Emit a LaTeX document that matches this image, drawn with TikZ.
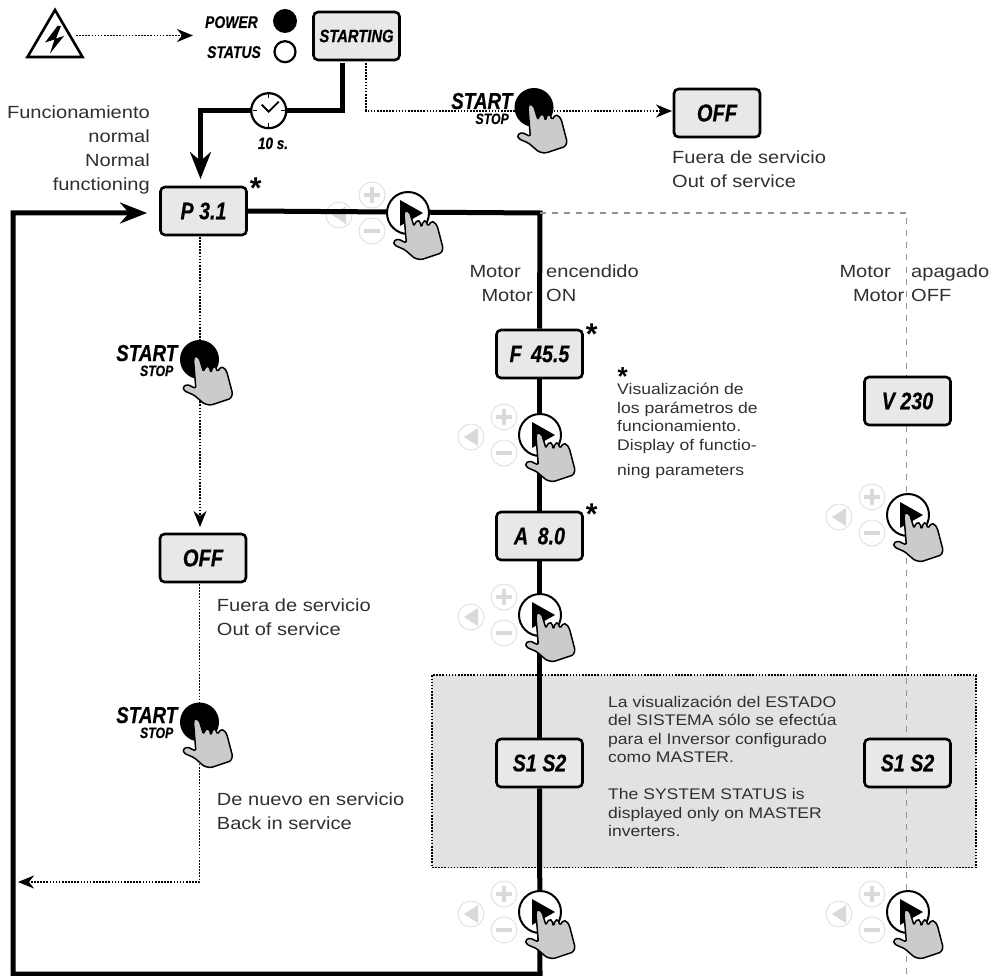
\documentclass[tikz,border=0pt]{standalone}
\usepackage{fontspec}
\setmainfont{Liberation Sans}
\newfontfamily\bifont[FakeStretch=0.82,FakeBold=0.4]{Liberation Sans}
\newfontfamily\ltfont[FakeStretch=1.14]{Liberation Sans}
\usetikzlibrary{arrows.meta}
\pgfdeclarelayer{back}
\pgfdeclarelayer{lines}
\pgfsetlayers{back,lines,main}
\definecolor{boxfill}{HTML}{E8E8E8}
\definecolor{shade}{HTML}{E1E3E3}
\definecolor{handfill}{HTML}{CBCBCC}
\definecolor{ghost}{HTML}{E2E2E3}
\definecolor{ghostfill}{HTML}{D9D9DA}
\definecolor{txt}{HTML}{303030}
\newcommand{\bisize}[1]{\bifont\bfseries\itshape\fontsize{#1}{#1}\selectfont}
\tikzset{
  dispbox/.style={draw=black,line width=2.6pt,fill=boxfill,rounded corners=4.5pt,minimum width=86pt,minimum height=48pt,inner sep=0pt,font=\bisize{24}},
  thick line/.style={line width=5pt,line join=miter},
  dotted line/.style={line width=1.6pt,dash pattern=on 1.6pt off 1.5pt},
  gray dash/.style={line width=1.2pt,draw=black!42,dash pattern=on 6pt off 6pt},
  big tip/.style={-{Stealth[length=27pt,width=21pt,inset=9pt]}},
  small tip/.style={-{Stealth[length=16pt,width=13pt,inset=5pt]}},
  lbl/.style={inner sep=0pt,text=txt,font=\ltfont\fontsize{17.6}{24}\selectfont},
  note/.style={inner sep=0pt,text=txt,font=\ltfont\fontsize{15.4}{18.6}\selectfont},
  biglab/.style={inner sep=0pt,anchor=base east},
  star/.style={inner sep=0pt,anchor=base,font=\bfseries\fontsize{30}{30}\selectfont},
  handshape/.pic={
    \draw[fill=handfill,line width=1.5pt,rounded corners=1.6pt,line join=round,scale=1/3]
      (-12,5)--(-9,-8)--(5,-2)--(18,40)--(22,28)--(29,22)--(36,25)--(40,43)--(46,25)--(53,22)--(60,40)
      --(70,25)--(80,28)--(88,40)--(105,105)--(100,120)--(40,140)--(20,136)--(-10,110)--(-40,97)--(-44,85)--(-30,78)--(-5,90)--cycle;
  },
  navbtn/.pic={
    \draw[fill=white,line width=2pt] (0,0) circle (21pt);
    \fill[black] (-8,-13)--(15,0)--(-8,13)--cycle;
    \pic {handshape};
  },
  navghost/.pic={
    \draw[ghost,line width=1pt,fill=white] (-36,-18) circle (13pt);
    \draw[ghost,line width=1pt,fill=white] (-36,18) circle (13pt);
    \draw[ghost,line width=1pt,fill=white] (-69,2) circle (13pt);
    \fill[ghostfill] (-76,2)--(-62,-7)--(-62,11)--cycle;
    \draw[ghostfill,line width=3.4pt] (-44,-18)--(-28,-18) (-36,-26)--(-36,-10);
    \draw[ghostfill,line width=3.4pt] (-44,18)--(-28,18);
  },
  startbtn/.pic={
    \fill[black] (0,0) circle (19.5pt);
    \pic[shift={(-2,-1)}] {handshape};
  },
}
\begin{document}
\begin{tikzpicture}[x=1pt,y=-1pt]
\useasboundingbox (0,0) rectangle (1003,976);
% display boxes
\node[dispbox,font=\bisize{18}] (starting) at (356.5,36) {STARTING};
\node[dispbox,font=\bisize{24}] (p31) at (203.5,211) {P 3.1};
\node[dispbox,font=\bisize{24.5}] (offtop) at (717,113) {OFF};
\node[dispbox,font=\bisize{24.5}] (offleft) at (203,558) {OFF};
\node[dispbox] (f455) at (539.5,354) {F\, 45.5};
\node[dispbox] (a80) at (539.5,536) {A\, 8.0};
\node[dispbox] (s1) at (539.5,763) {S1 S2};
\node[dispbox] (v230) at (907.5,401) {V 230};
\node[dispbox] (s2) at (907.5,763) {S1 S2};
% clock and warning sign
\node[circle,draw=black,fill=white,line width=2.2pt,minimum size=35pt,inner sep=0pt] (clock) at (268.7,110.7) {};
\draw[line width=1.8pt] (261.7,104.7)--(268.7,111.7)--(278.7,101.7);
\draw[line width=1.3pt] (268.7,94.5)--(268.7,98.5) (268.7,123)--(268.7,127) (252.5,110.7)--(256.5,110.7) (281,110.7)--(285,110.7);
\draw[line width=2.6pt,line join=miter,fill=white] (55,10)--(27.5,57)--(82.5,57)--cycle;
\fill[black] (57.5,26)--(45,42.5)--(54.5,39.5)--(50,53.5)--(64,36)--(56,38.5)--(61,26)--cycle;
% leds
\node[circle,fill=black,minimum size=24pt,inner sep=0pt] (ledpower) at (285,21) {};
\node[circle,draw=black,fill=white,line width=2.2pt,minimum size=21pt,inner sep=0pt] (ledstatus) at (285,51.7) {};
% junctions
\coordinate (warnout) at (76,35.5);
\coordinate (ledin) at (193,35.5);
\coordinate (c0) at (342,63);
\coordinate (c1) at (342,110.5);
\coordinate (c2) at (200.5,110.5);
\coordinate (c2b) at (200.5,179);
\coordinate (c3) at (540,213);
\coordinate (c4) at (906.5,213);
\coordinate (c5) at (540,974);
\coordinate (c6) at (13,974);
\coordinate (c7) at (13,213);
\coordinate (c8) at (147,213);
\coordinate (d1) at (366,63);
\coordinate (d2) at (366,111);
\coordinate (d2b) at (672,111);
\coordinate (d3) at (199.5,882);
\coordinate (d4) at (18,882);
\coordinate (d5) at (200,237);
\coordinate (d6) at (200,527);
\coordinate (d7) at (199.5,584);
\coordinate (e1) at (906.5,976);
% shaded band and faint buttons
\begin{pgfonlayer}{back}
\node[fill=shade,draw=black,dotted line,minimum width=543.7pt,minimum height=192.5pt,inner sep=0pt] (band) at (703.85,771.25) {};
\foreach \p in {(408,213),(540,435),(540,615),(540,912),(908,515),(908,912)}
  \pic at \p {navghost};
\end{pgfonlayer}
% connectors
\begin{pgfonlayer}{lines}
\draw[thick line,big tip] (c0) -- (c1) -- (c2) -- (c2b);
\draw[thick line] (p31.east) -- (c3) -- (f455.north);
\draw[thick line] (f455.south) -- (a80.north);
\draw[thick line] (a80.south) -- (s1.north);
\draw[thick line,big tip] (s1.south) -- (c5) -- (c6) -- (c7) -- (c8);
\draw[gray dash] (c3) -- (c4) -- (v230.north -| c4);
\draw[gray dash] (v230.south -| c4) -- (s2.north -| c4);
\draw[gray dash] (s2.south -| c4) -- (e1);
\draw[dotted line,small tip] (warnout) -- (ledin);
\draw[dotted line,small tip] (d1) -- (d2) -- (d2b);
\draw[dotted line,small tip] (d5) -- (d6);
\draw[dotted line,small tip] (d7) -- (d3) -- (d4);
\end{pgfonlayer}
% hands
\foreach \p in {(408,213),(540,435),(540,615),(540,912),(908,515),(908,912)}
  \pic at \p {navbtn};
\foreach \p in {(534,107.5),(199.5,359.5),(199.5,722)}
  \pic at \p {startbtn};
% bold italic labels
\node[biglab,font=\bisize{17}] (tpower) at (258,28) {POWER};
\node[biglab,font=\bisize{17}] (tstatus) at (261,58) {STATUS};
\node[inner sep=0pt,anchor=base,font=\bisize{16.5}] (t10) at (273,149) {10 s.};
\node[biglab,font=\bisize{23}] (st1) at (512.5,109) {START};
\node[biglab,font=\bisize{15}] (sp1) at (509,124) {STOP};
\node[biglab,font=\bisize{23}] (st2) at (177.5,361) {START};
\node[biglab,font=\bisize{15}] (sp2) at (173.5,376) {STOP};
\node[biglab,font=\bisize{23}] (st3) at (177.5,723) {START};
\node[biglab,font=\bisize{15}] (sp3) at (173.5,738) {STOP};
% plain labels
\node[lbl,align=right,anchor=base east] (tnorm) at (150,191) {Funcionamiento\\normal\\Normal\\functioning};
\node[lbl,align=left,anchor=base west] (tfuera1) at (672,187.7) {Fuera de servicio\\Out of service};
\node[lbl,align=left,anchor=base west] (tfuera2) at (216.7,635.7) {Fuera de servicio\\Out of service};
\node[lbl,align=left,anchor=base west] (tnuevo) at (216.7,829) {De nuevo en servicio\\Back in service};
\node[lbl,anchor=base east] (tm1) at (521,277) {Motor};
\node[lbl,anchor=base west] (tm2) at (546,277) {encendido};
\node[lbl,anchor=base east] (tm3) at (533,301) {Motor};
\node[lbl,anchor=base west] (tm4) at (546,301) {ON};
\node[lbl,anchor=base east] (tm5) at (891,277) {Motor};
\node[lbl,anchor=base west] (tm6) at (911,277) {apagado};
\node[lbl,anchor=base east] (tm7) at (904.5,301) {Motor};
\node[lbl,anchor=base west] (tm8) at (911,301) {OFF};
\node[note,align=left,anchor=base west] (tvis) at (617,475) {Visualización de\\los parámetros de\\funcionamiento.\\Display of functio-\\[6pt]ning parameters};
\node[note,align=left,anchor=base west] (tsys) at (608,836.7) {La visualización del ESTADO\\del SISTEMA sólo se efectúa\\para el Inversor configurado\\como MASTER.\\[18pt]The SYSTEM STATUS is\\displayed only on MASTER\\inverters.};
% asterisks
\node[star] (as1) at (255.7,199) {*};
\node[star] (as2) at (591.7,344) {*};
\node[star] (as3) at (591.7,524) {*};
\node[star,font=\bfseries\fontsize{26}{26}\selectfont] (as4) at (622.7,385) {*};
\end{tikzpicture}
\end{document}
